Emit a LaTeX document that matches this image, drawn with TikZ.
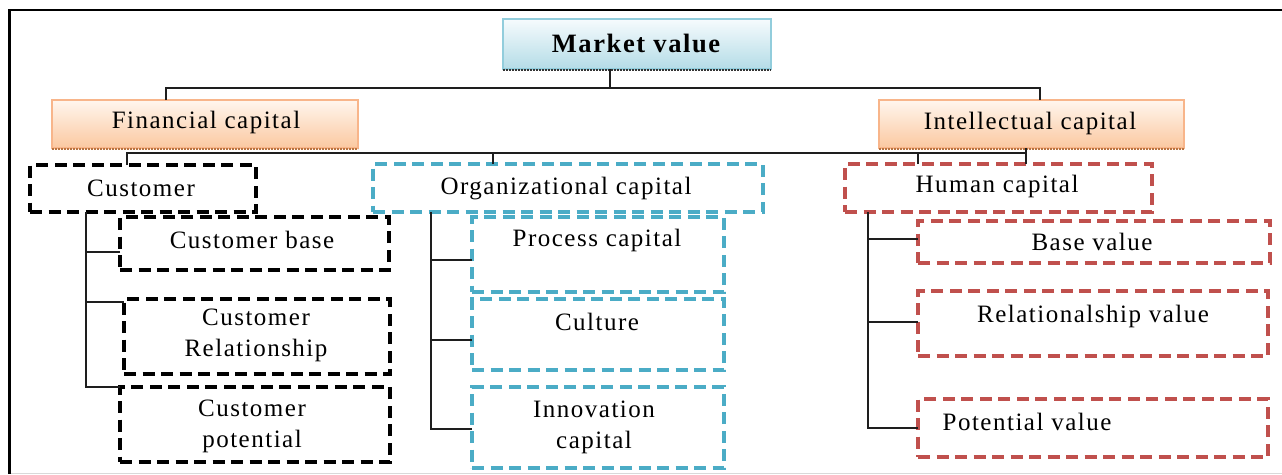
\documentclass[tikz,border=0pt]{standalone}
\usepackage{fontspec}
\setmainfont{Liberation Serif}[LetterSpace=6]
\usetikzlibrary{calc}
\definecolor{cblue}{HTML}{4BACC6}
\definecolor{cred}{HTML}{C0504D}
\definecolor{linec}{HTML}{1E1E1E}
\definecolor{mvtop}{HTML}{F6FBFD}
\definecolor{mvbot}{HTML}{B4DCE7}
\definecolor{mvedge}{HTML}{92CDDC}
\definecolor{fctop}{HTML}{FFF6EE}
\definecolor{fcbot}{HTML}{FBC8A0}
\definecolor{fcedge}{HTML}{F8B58A}
\definecolor{fcdots}{HTML}{B8733F}
\tikzset{
  conn/.style={draw=linec, line width=2pt},
  box/.style={inner sep=0pt, outer sep=0pt},
  dbox/.style={box, line width=3.6pt, dash pattern=on 12pt off 6.5pt},
  blackbox/.style={dbox, draw=black},
  bluebox/.style={dbox, draw=cblue},
  redbox/.style={dbox, draw=cred},
  topbox/.style={box, draw=mvedge, line width=1.5pt, top color=mvtop, bottom color=mvbot},
  capbox/.style={box, draw=fcedge, line width=1.5pt, top color=fctop, bottom color=fcbot},
  dotrow/.style={line width=2.6pt, dash pattern=on 1.6pt off 1.4pt},
  txt/.style={inner sep=0pt, align=center, text=black}
}
\begin{document}
\begin{tikzpicture}[x=1pt, y=1pt, font=\fontsize{25}{31}\selectfont]
\useasboundingbox (0,0) rectangle (1282,-474);

% outer frame
\draw[black, line width=2.6pt] (9.5,-474) -- (9.5,-10) -- (1282,-10);
\draw[black!15, line width=1pt] (11,-473) -- (1282,-473);

% top level boxes
\node[topbox, minimum width=268, minimum height=50] (mv) at (637,-44) {};
\node[capbox, minimum width=306, minimum height=48] (fc) at (205,-124) {};
\node[capbox, minimum width=305, minimum height=48] (ic) at (1031.5,-124) {};
\draw[dotrow, black!80] ([yshift=-1pt]mv.south west) -- ([yshift=-1pt]mv.south east);
\draw[dotrow, fcdots] ([yshift=-1pt]fc.south west) -- ([yshift=-1pt]fc.south east);
\draw[dotrow, fcdots] ([yshift=-1pt]ic.south west) -- ([yshift=-1pt]ic.south east);

% second level boxes
\node[blackbox, minimum width=226, minimum height=47] (cu) at (143,-188.5) {};
\node[bluebox, minimum width=390, minimum height=48] (oc) at (568,-188) {};
\node[redbox, minimum width=307, minimum height=48] (hc) at (998.5,-188) {};

% customer branch
\node[blackbox, minimum width=269, minimum height=53] (cb) at (254.5,-243.5) {};
\node[blackbox, minimum width=266, minimum height=75] (cr) at (257,-336.5) {};
\node[blackbox, minimum width=270, minimum height=75] (cp) at (255,-424.5) {};

% organizational branch
\node[bluebox, minimum width=252, minimum height=75] (pc) at (598,-254.5) {};
\node[bluebox, minimum width=252, minimum height=71] (cl) at (598,-334.5) {};
\node[bluebox, minimum width=252, minimum height=81] (in) at (598,-427.5) {};

% human branch
\node[redbox, minimum width=352, minimum height=42] (bv) at (1094,-242) {};
\node[redbox, minimum width=350, minimum height=65] (rv) at (1093,-323.5) {};
\node[redbox, minimum width=350, minimum height=58] (pv) at (1093,-428) {};

% labels
\node[txt, font=\fontsize{26.5}{31}\selectfont\bfseries] (t-mv) at (636,-43) {Market value};
\node[txt] (t-fc) at (206,-122) {Financial capital};
\node[txt] (t-ic) at (1030,-123) {Intellectual capital};
\node[txt] (t-cu) at (141,-188) {Customer};
\node[txt] (t-oc) at (566,-189) {Organizational capital};
\node[txt] (t-hc) at (997,-186) {Human capital};
\node[txt] (t-cb) at (252,-240) {Customer base};
\node[txt] (t-cr) at (256,-335) {Customer\\Relationship};
\node[txt] (t-cp) at (252,-426) {Customer\\potential};
\node[txt] (t-pc) at (597,-240) {Process capital};
\node[txt] (t-cl) at (597,-322) {Culture};
\node[txt] (t-in) at (594,-427) {Innovation\\capital};
\node[txt] (t-bv) at (1092,-242) {Base value};
\node[txt] (t-rv) at (1093,-316) {Relationalship value};
\node[txt] (t-pv) at (1027,-422) {Potential value};

% upper connectors
\draw[conn] ([xshift=-27pt]mv.south) -- ++(0,-19);
\draw[conn] ([xshift=-39pt]fc.north) -- ++(0,12) -| ([xshift=8.5pt]ic.north);
\draw[conn] ([xshift=-16pt]cu.north) -- ++(0,12) -| ([xshift=-5.5pt]ic.south);
\draw[conn] ([xshift=-75pt]oc.north) -- ++(0,11);
\draw[conn] ([xshift=-80.5pt]hc.north) -- ++(0,11);
\draw[conn] ([xshift=-5.5pt]ic.south) -- ([xshift=27.5pt]hc.north);

% tree trunks
\coordinate (cuT) at ([xshift=-57pt]cu.south);
\coordinate (ocT) at ([xshift=-137pt]oc.south);
\coordinate (hcT) at ([xshift=-130.5pt]hc.south);

\draw[conn] (cuT) |- (cp.north west);
\draw[conn] ([yshift=-8.5pt]cb.west) -| (cuT);
\draw[conn] ([yshift=34.5pt]cr.west) -| (cuT);

\draw[conn] (ocT) |- ([yshift=-1.5pt]in.west);
\draw[conn] ([yshift=-5.5pt]pc.west) -| (ocT);
\draw[conn] ([yshift=-5.5pt]cl.west) -| (ocT);

\draw[conn] (hcT) |- (pv.west);
\draw[conn] ([yshift=3pt]bv.west) -| (hcT);
\draw[conn] ([yshift=1.5pt]rv.west) -| (hcT);
\end{tikzpicture}
\end{document}
